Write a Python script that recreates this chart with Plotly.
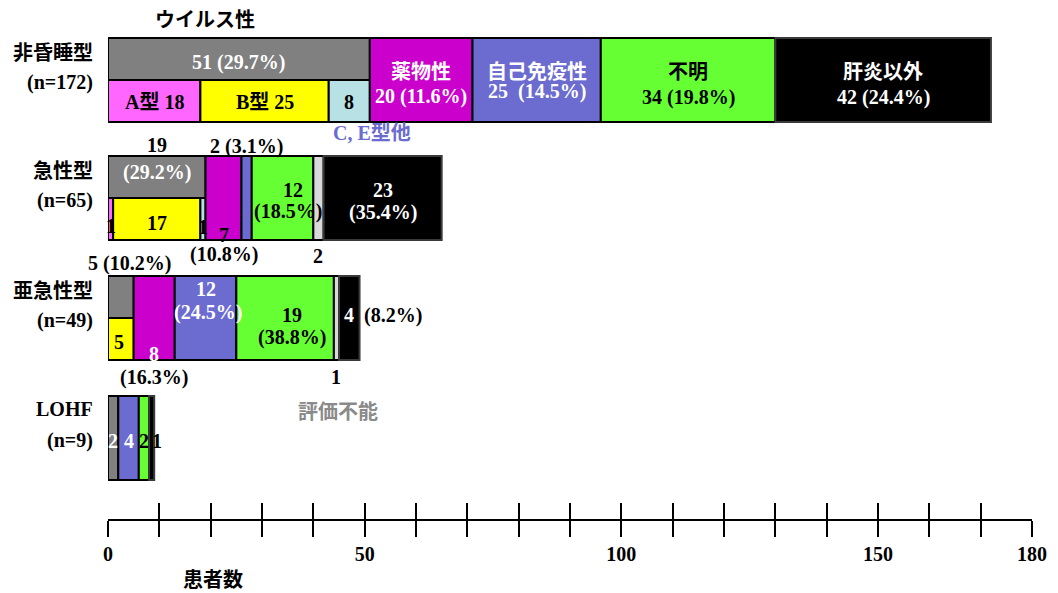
import plotly.graph_objects as go

# ---- data -------------------------------------------------------------
rows = ["非昏睡型", "急性型", "亜急性型", "LOHF"]
totals = [172, 65, 49, 9]

viral = [51, 19, 5, 2]            # ウイルス性 (total)
hav = [18, 1, 0, 0]               # A型
hbv = [25, 17, 5, 0]              # B型
hce_other = [8, 1, 0, 0]          # C, E型他
drug = [20, 7, 8, 0]              # 薬物性
autoimmune = [25, 2, 12, 4]       # 自己免疫性
unknown = [34, 12, 19, 2]         # 不明
unevaluable = [0, 2, 1, 0]        # 評価不能
non_hepatitis = [42, 23, 4, 1]    # 肝炎以外

x_ticks = list(range(0, 181, 10))
x_tick_labels = {0: "0", 50: "50", 100: "100", 150: "150", 180: "180"}

# ---- layout helpers ---------------------------------------------------
ROW_Y = [80, 198, 318, 438]       # row centres (y axis runs in pixels)
ROW_H = 84
HALF = ROW_H / 2
PLOT_H = 519

C_GRAY = "#808080"
C_PINK = "#ff66ff"
C_YELLOW = "#ffff00"
C_LBLUE = "#b7e1e4"
C_PURPLE = "#cc00cc"
C_BLUE = "#6b6bd0"
C_GREEN = "#66ff33"
C_LGRAY = "#d9d9d9"
C_BLACK = "#000000"

SERIF = "Liberation Serif, Noto Sans CJK JP, serif"
GOTHIC = "Noto Sans CJK JP, sans-serif"

n = len(rows)
s_drug = [viral[i] for i in range(n)]
s_auto = [s_drug[i] + drug[i] for i in range(n)]
s_unk = [s_auto[i] + autoimmune[i] for i in range(n)]
s_unev = [s_unk[i] + unknown[i] for i in range(n)]
s_nonh = [s_unev[i] + unevaluable[i] for i in range(n)]
has_sub = [hav[i] + hbv[i] + hce_other[i] > 0 for i in range(n)]

fig = go.Figure()


def add_segments(vals, starts, ys, widths, color, edge="black"):
    keep = [i for i in range(n) if vals[i] > 0]
    fig.add_trace(go.Bar(
        orientation="h",
        x=[vals[i] for i in keep],
        base=[starts[i] for i in keep],
        y=[ys[i] for i in keep],
        width=[widths[i] for i in keep],
        marker=dict(color=color, line=dict(color=edge, width=2)),
        showlegend=False, hoverinfo="skip",
    ))


# viral block: upper half when subtypes are known, full height otherwise
add_segments(viral, [0] * n,
             [ROW_Y[i] - HALF / 2 if has_sub[i] else ROW_Y[i] for i in range(n)],
             [HALF if has_sub[i] else ROW_H for i in range(n)], C_GRAY)
lower = [ROW_Y[i] + HALF / 2 for i in range(n)]
add_segments(hav, [0] * n, lower, [HALF] * n, C_PINK)
add_segments(hbv, hav, lower, [HALF] * n, C_YELLOW)
add_segments(hce_other, [hav[i] + hbv[i] for i in range(n)], lower, [HALF] * n, C_LBLUE)
add_segments(drug, s_drug, ROW_Y, [ROW_H] * n, C_PURPLE)
add_segments(autoimmune, s_auto, ROW_Y, [ROW_H] * n, C_BLUE)
add_segments(unknown, s_unk, ROW_Y, [ROW_H] * n, C_GREEN)
add_segments(unevaluable, s_unev, ROW_Y, [ROW_H] * n, C_LGRAY)
add_segments(non_hepatitis, s_nonh, ROW_Y, [ROW_H] * n, C_BLACK, edge="#3a3a3a")


def pct(v, t):
    return f"({v / t * 100:.1f}%)"


def label(x, y, text, color="black", family=SERIF, size=20, **kw):
    fig.add_annotation(x=x, y=y, text=text, showarrow=False, xref="x", yref="y",
                       font=dict(family=family, size=size, color=color, weight="bold"),
                       **kw)


# row labels
for i in range(n):
    top = ROW_Y[i] - HALF
    fam = SERIF if rows[i].isascii() else GOTHIC
    fig.add_annotation(x=0, xref="paper", y=top + 13, yref="y", text=rows[i],
                       xanchor="right", xshift=-13, showarrow=False,
                       font=dict(family=fam, size=20, color="black", weight="bold"))
    fig.add_annotation(x=0, xref="paper", y=top + 44, yref="y", text=f"(n={totals[i]})",
                       xanchor="right", xshift=-13, showarrow=False,
                       font=dict(family=SERIF, size=20, color="black", weight="bold"))

# 非昏睡型
i, t = 0, totals[0]
label(18.9, 18, "ウイルス性", family=GOTHIC)
label(viral[i] / 2, 62, f"{viral[i]} {pct(viral[i], t)}", "white")
label(hav[i] / 2, 102, f"A型 {hav[i]}")
label(hav[i] + hbv[i] / 2, 102, f"B型 {hbv[i]}")
label(hav[i] + hbv[i] + hce_other[i] / 2, 102, f"{hce_other[i]}")
label(hav[i] + hbv[i] + hce_other[i] + 0.4, 133, "C, E型他", C_BLUE)
label(s_drug[i] + drug[i] / 2, 70, "薬物性", "white", GOTHIC)
label(s_drug[i] + drug[i] / 2, 96, f"{drug[i]} {pct(drug[i], t)}", "white")
label(s_auto[i] + autoimmune[i] / 2, 70, "自己免疫性", "white", GOTHIC)
label(s_auto[i] + autoimmune[i] / 2, 91, f"{autoimmune[i]}&nbsp; {pct(autoimmune[i], t)}", "white")
label(s_unk[i] + unknown[i] / 2, 70, "不明", "black", GOTHIC)
label(s_unk[i] + unknown[i] / 2, 97, f"{unknown[i]} {pct(unknown[i], t)}")
label(s_nonh[i] + non_hepatitis[i] / 2, 70, "肝炎以外", "white", GOTHIC)
label(s_nonh[i] + non_hepatitis[i] / 2, 97, f"{non_hepatitis[i]} {pct(non_hepatitis[i], t)}", "white")

# 急性型
i, t = 1, totals[1]
label(viral[i] / 2, 145, f"{viral[i]}")
label(viral[i] / 2, 172, pct(viral[i], t), "white")
label(hav[i] / 2, 226, f"{hav[i]}")
label(hav[i] + hbv[i] / 2, 223, f"{hbv[i]}")
label(hav[i] + hbv[i] + hce_other[i] / 2, 227, f"{hce_other[i]}")
label(s_drug[i] + drug[i] / 2, 235, f"{drug[i]}")
label(s_drug[i] + drug[i] / 2, 254, pct(drug[i], t))
label(s_auto[i] + autoimmune[i] / 2, 146, f"{autoimmune[i]} {pct(autoimmune[i], t)}")
label(s_unk[i] + unknown[i] / 2 + 2, 190, f"{unknown[i]}")
label(s_unk[i] + unknown[i] / 2 + 1, 211, pct(unknown[i], t))
label(s_unev[i] + unevaluable[i] / 2, 256, f"{unevaluable[i]}")
label(s_nonh[i] + non_hepatitis[i] / 2, 190, f"{non_hepatitis[i]}", "white")
label(s_nonh[i] + non_hepatitis[i] / 2, 212, pct(non_hepatitis[i], t), "white")

# 亜急性型
i, t = 2, totals[2]
label(viral[i] / 2 + 1.6, 263, f"{viral[i]} {pct(viral[i], t)}")
label(hbv[i] / 2 - 0.3, 342, f"{hbv[i]}")
label(s_drug[i] + drug[i] / 2, 354, f"{drug[i]}", "white")
label(s_drug[i] + drug[i] / 2, 377, pct(drug[i], t))
label(s_auto[i] + autoimmune[i] / 2, 289, f"{autoimmune[i]}", "white")
label(s_auto[i] + autoimmune[i] / 2 + 0.5, 312, pct(autoimmune[i], t), "white")
label(s_unk[i] + unknown[i] / 2 + 1.3, 315, f"{unknown[i]}")
label(s_unk[i] + unknown[i] / 2 + 1.3, 337, pct(unknown[i], t))
label(s_unev[i] + unevaluable[i] / 2, 377, f"{unevaluable[i]}")
label(s_nonh[i] + non_hepatitis[i] / 2, 315, f"{non_hepatitis[i]}", "white")
label(totals[i] + 0.4, 315, pct(non_hepatitis[i], t), xanchor="left")

# LOHF
i, t = 3, totals[3]
label(viral[i] / 2, 441, f"{viral[i]}", "white")
label(s_auto[i] + autoimmune[i] / 2, 441, f"{autoimmune[i]}", "white")
label(s_unk[i] + unknown[i] / 2, 441, f"{unknown[i]}")
label(s_nonh[i] + non_hepatitis[i] / 2 + 1.1, 441, f"{non_hepatitis[i]}")
label(44.8, 410, "評価不能", "#8a8a8a", GOTHIC)

# axis title, below the tick labels
fig.add_annotation(x=20.5, xref="x", y=(PLOT_H - 578) / PLOT_H, yref="paper",
                   yanchor="middle", text="患者数", showarrow=False,
                   font=dict(family=GOTHIC, size=20, color="black", weight="bold"))

tick_text = [x_tick_labels.get(v, "") for v in x_ticks]
fig.update_layout(
    width=1058, height=593,
    margin=dict(l=108, r=26, t=0, b=593 - PLOT_H),
    paper_bgcolor="white", plot_bgcolor="white",
    barmode="overlay",
    xaxis=dict(range=[0, 180], showgrid=False, zeroline=False,
               showline=True, linecolor="black", linewidth=2,
               ticks="outside", ticklen=16, tickwidth=2, tickcolor="black",
               tickvals=x_ticks, ticktext=tick_text,
               tickfont=dict(family=SERIF, size=20, color="black", weight="bold")),
    xaxis2=dict(range=[0, 180], overlaying="x", side="bottom", anchor="y",
                showgrid=False, zeroline=False, showline=False,
                ticks="inside", ticklen=16, tickwidth=2, tickcolor="black",
                tickvals=x_ticks, showticklabels=False),
    yaxis=dict(range=[PLOT_H, 0], visible=False, showgrid=False, zeroline=False),
)
# invisible trace so the second x axis is drawn
fig.add_trace(go.Scatter(x=[0], y=[0], xaxis="x2", mode="markers",
                         marker=dict(opacity=0), showlegend=False, hoverinfo="skip"))

fig.write_html("out.html")
